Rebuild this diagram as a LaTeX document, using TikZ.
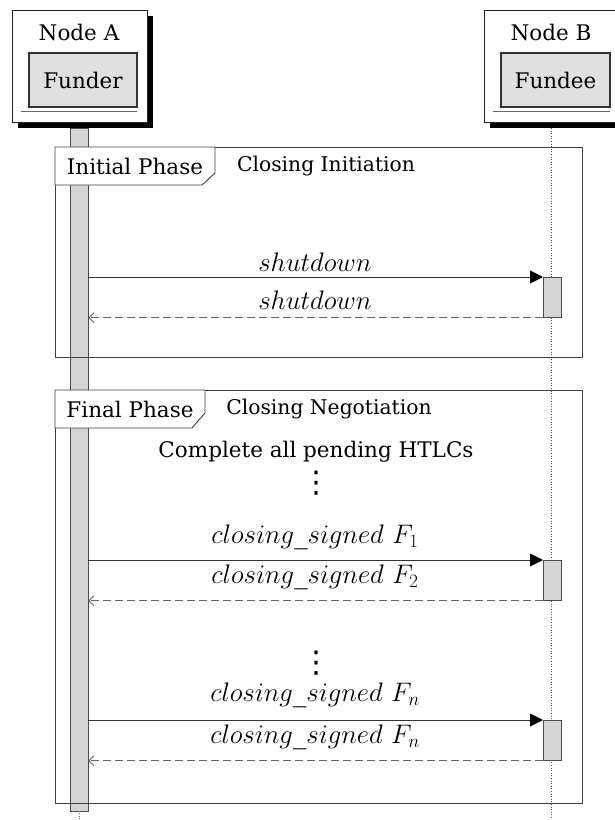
\documentclass[tikz,border=0pt]{standalone}
\usepackage{fix-cm}
\usepackage[no-math]{fontspec}
\setmainfont{DejaVu Serif}
\newfontfamily\symfont{DejaVu Sans}
\usetikzlibrary{arrows.meta}
\begin{document}
\begin{tikzpicture}[x=1pt,y=-1pt,
  txt/.style={font=\fontsize{21.5}{24}\selectfont, inner sep=0pt},
  ttl/.style={font=\fontsize{20.3}{24}\selectfont, inner sep=0pt},
  msg/.style={font=\fontsize{26.8}{30}\selectfont, inner sep=0pt},
  dts/.style={font=\symfont\fontsize{30}{30}\selectfont, inner sep=0pt},
  outerbox/.style={draw=black!85, fill=white, line width=0.9pt, inner sep=0pt, anchor=north west},
  innerbox/.style={draw=black!80, fill=black!12, line width=1.3pt, inner sep=0pt, font=\fontsize{21.5}{24}\selectfont},
  frm/.style={draw=black!75, line width=0.9pt},
  act/.style={draw=black!70, fill=black!17, line width=0.8pt, inner sep=0pt},
  call/.style={draw=black!80, line width=0.9pt, -{Triangle[length=13pt,width=13pt,color=black]}},
  ret/.style={draw=black!60, line width=0.9pt, dash pattern=on 8pt off 4pt, -{Straight Barb[length=5pt,width=10pt]}},
]
\useasboundingbox (0,0) rectangle (614,820);
\fill[white] (0,0) rectangle (614,820);

% ---- Node A header
\fill[black] (18,16) rectangle (153,128);
\node[outerbox, minimum width=135pt, minimum height=112pt] (objA) at (12,10) {};
\node[txt] (nameA) at (79,32) {Node A};
\node[innerbox, minimum width=108pt, minimum height=54pt] (funder) at (83,80) {Funder};
\coordinate (ulA1) at (21,111);
\coordinate (ulA2) at (137,111);
\draw[black!60, line width=1pt] (ulA1) -- (ulA2);

% ---- Node B header
\fill[black] (490,16) rectangle (624,128);
\node[outerbox, minimum width=134pt, minimum height=112pt] (objB) at (484,10) {};
\node[txt] (nameB) at (551,32) {Node B};
\node[innerbox, minimum width=109pt, minimum height=54pt] (fundee) at (555.5,80) {Fundee};
\coordinate (ulB1) at (493,111);
\coordinate (ulB2) at (610,111);
\draw[black!60, line width=1pt] (ulB1) -- (ulB2);

% ---- lifelines
\node[act, minimum width=18pt, minimum height=683pt, anchor=north] (barA) at (79,128) {};
\coordinate (lbA1) at (79,811);
\coordinate (lbA2) at (79,820);
\draw[dotted, black!60] (lbA1) -- (lbA2);
\coordinate (lbTop) at (551.5,128);
\coordinate (lbBot) at (551.5,820);
\draw[dotted, black!70, line width=0.6pt] (lbTop) -- (lbBot);

% ---- Frame 1
\node[frm, minimum width=527pt, minimum height=210pt, inner sep=0pt, anchor=north west] (frame1) at (55,147) {};
\draw[frm, fill=white] (55,147) -- (215,147) -- (215,173) -- (202,185) -- (55,185) -- cycle;
\node[txt] (tab1) at (135,166) {Initial Phase};
\node[ttl] (title1) at (326,166) {Closing Initiation};

\node[act, minimum width=18pt, minimum height=40pt, anchor=north west] (act1) at (543,277) {};
\draw[call] (barA.east |- act1.north west) -- (act1.north west);
\draw[ret] (act1.south west) -- (barA.east |- act1.south west);
\node[msg] (m1) at (315,262) {$shutdown$};
\node[msg] (m2) at (315,300) {$shutdown$};

% ---- Frame 2
\node[frm, minimum width=527pt, minimum height=413pt, inner sep=0pt, anchor=north west] (frame2) at (55,390) {};
\draw[frm, fill=white] (55,390) -- (205,390) -- (205,413) -- (192,428) -- (55,428) -- cycle;
\node[txt] (tab2) at (130,409) {Final Phase};
\node[ttl] (title2) at (329,409) {Closing Negotiation};
\node[txt] (htlc) at (316,452) {Complete all pending HTLCs};
\node[dts] (dots1) at (316,483) {⋮};

\node[act, minimum width=18pt, minimum height=40pt, anchor=north west] (act2) at (543,560) {};
\draw[call] (barA.east |- act2.north west) -- (act2.north west);
\draw[ret] (act2.south west) -- (barA.east |- act2.south west);
\node[msg] (m3) at (315,537) {$closing\_signed\ F_1$};
\node[msg] (m4) at (315,577) {$closing\_signed\ F_2$};

\node[dts] (dots2) at (316,663) {⋮};

\node[act, minimum width=18pt, minimum height=40pt, anchor=north west] (act3) at (543,720) {};
\draw[call] (barA.east |- act3.north west) -- (act3.north west);
\draw[ret] (act3.south west) -- (barA.east |- act3.south west);
\node[msg] (m5) at (315,695) {$closing\_signed\ F_n$};
\node[msg] (m6) at (315,737) {$closing\_signed\ F_n$};
\end{tikzpicture}
\end{document}
